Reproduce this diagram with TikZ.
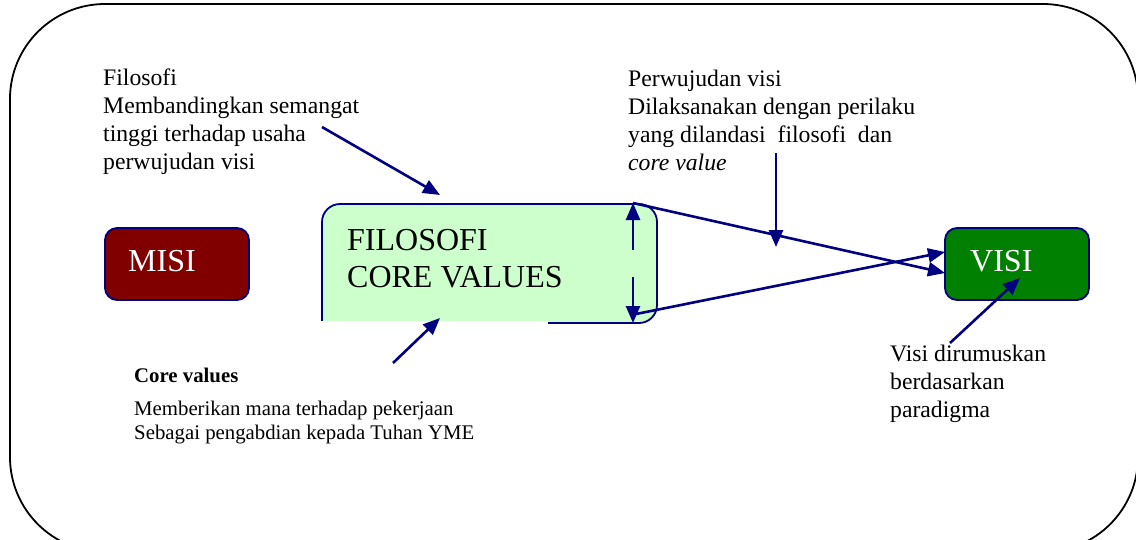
\documentclass[tikz,border=0pt]{standalone}
\usepackage{fontspec}
\setmainfont{Liberation Serif}
\usetikzlibrary{arrows.meta}
\definecolor{navy}{HTML}{000080}
\definecolor{palegreen}{HTML}{CCFFCC}
\definecolor{maroonfill}{HTML}{800000}
\definecolor{greenfill}{HTML}{008000}

\begin{document}
\begin{tikzpicture}[x=1pt,y=-1pt,
  arr/.style={navy, line width=2.6pt, -{Triangle[length=17pt,width=14pt]}},
  txt/.style={anchor=base west, inner sep=0pt, align=left, font=\fontsize{23.7}{28}\selectfont},
  small/.style={anchor=base west, inner sep=0pt, align=left, font=\fontsize{20.8}{24}\selectfont},
  big/.style={anchor=base west, inner sep=0pt, align=left, font=\fontsize{32}{37}\selectfont},
  box/.style={draw=navy, line width=1.8pt, rounded corners=12pt}]
  \useasboundingbox (0,0) rectangle (1136,539);
  \clip (0,0) rectangle (1136,539);

  % outer frame
  \draw[line width=1.8pt, rounded corners=95pt] (10,4) rectangle (1138,552);

  % boxes
  \node[box, fill=maroonfill, minimum width=144pt, minimum height=72pt] (m) at (177,264) {};
  \node[box, fill=greenfill, minimum width=144pt, minimum height=72pt] (v) at (1017,264) {};
  \node[box, fill=palegreen, rounded corners=18pt, minimum width=335pt, minimum height=119pt] (f) at (489.5,263.5) {};
  % cut bottom left of the green box
  \fill[white] (318,320.5) rectangle (548,327);
  \fill[palegreen] (323,300) rectangle (548,320.5);
  \draw[navy, line width=1.8pt] (322,290) -- (322,320.5);

  % base anchor = last line
  \node[big, text=white] (mt) at (128,271) {MISI};
  \node[big, text=white] (vt) at (970,271) {VISI};
  \node[big] (ft) at (347,287) {FILOSOFI\\CORE VALUES};

  % texts
  \node[txt] (a) at (103,169) {Filosofi\\Membandingkan semangat\\tinggi terhadap usaha\\perwujudan visi};
  \node[txt] (b) at (628,170) {Perwujudan visi\\Dilaksanakan dengan perilaku\\yang dilandasi\ \ filosofi\ \ dan\\\textit{core value}};
  \node[txt] (c) at (890,417) {Visi dirumuskan\\berdasarkan\\paradigma};
  \node[small, font=\fontsize{20.8}{24}\selectfont\bfseries] (d) at (134,382) {Core values};
  \node[small] (e) at (134,439) {Memberikan mana terhadap pekerjaan\\Sebagai pengabdian kepada Tuhan YME};

  % arrow ends
  \coordinate (ftop) at (633,203);
  \coordinate (fbot) at (633,323);
  \coordinate (g1) at (633,250);
  \coordinate (g2) at (633,277);
  \coordinate (fcorner) at (636,314);
  \coordinate (v1) at (945,273);
  \coordinate (v2) at (945,252);
  \coordinate (a1) at (322,127);
  \coordinate (a2) at (440,195);
  \coordinate (b1) at (776,153);
  \coordinate (b2) at (776,247);
  \coordinate (c1) at (950,343);
  \coordinate (c2) at (1020,278);
  \coordinate (d1) at (393,363);
  \coordinate (d2) at (440,318);

  % inner double arrow
  \draw[arr] (g1) -- (ftop);
  \draw[arr] (g2) -- (fbot);
  % to visi
  \draw[arr] (ftop) -- (v1);
  \draw[arr] (fcorner) -- (v2);
  % pointers
  \draw[arr] (a1) -- (a2);
  \draw[arr] (b1) -- (b2);
  \draw[arr] (c1) -- (c2);
  \draw[arr] (d1) -- (d2);
\end{tikzpicture}
\end{document}
